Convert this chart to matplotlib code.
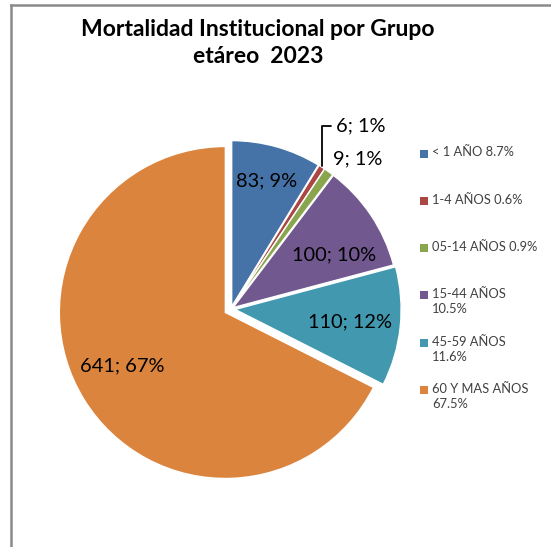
import numpy as np
import matplotlib.pyplot as plt
from matplotlib.patches import Rectangle
from matplotlib.lines import Line2D

plt.rcParams['font.family'] = ['Lato', 'DejaVu Sans']

# Datos
grupos = ['< 1 AÑO 8.7%', '1-4 AÑOS 0.6%', '05-14 AÑOS 0.9%',
          '15-44 AÑOS\n10.5%', '45-59 AÑOS\n11.6%', '60 Y MAS AÑOS\n67.5%']
defunciones = [83, 6, 9, 100, 110, 641]
porcentajes = [9, 1, 1, 10, 12, 67]
colores = ['#4572A7', '#AA4643', '#89A54E', '#71588F', '#4198AF', '#DB843D']

# ubicacion de etiquetas: distancia (radios) y giro respecto al centro del sector (grados)
dist_etiqueta = [0.80, 1.35, 1.18, 0.70, 0.72, 0.74]
giro_etiqueta = [0, -2.6, -4.7, -6.3, 0, -4.2]
separacion = [0.015, 0.015, 0.015, 0.015, 0.025, 0.04]

W, H = 551, 547
cx, cy, R = 231, 309, 166   # centro y radio del pie en pixeles
fig = plt.figure(figsize=(W / 100, H / 100), dpi=100)

# marco del grafico
fig.add_artist(Line2D([11 / W, 11 / W], [0, 1 - 5 / H], color='#8a8a8a', lw=1.8))
fig.add_artist(Line2D([11 / W, 1], [1 - 5 / H, 1 - 5 / H], color='#8a8a8a', lw=1.8))

fig.text(258 / W, 1 - 43 / H, 'Mortalidad Institucional por Grupo\netáreo  2023',
         ha='center', va='center', fontsize=16.5, fontweight='bold', linespacing=1.3)

half = 178
ax = fig.add_axes([(cx - half) / W, 1 - (cy + half) / H, 2 * half / W, 2 * half / H])
wedges, _ = ax.pie(defunciones, colors=colores, startangle=90, counterclock=False,
                   explode=separacion, radius=1.0,
                   wedgeprops=dict(edgecolor='white', linewidth=1.0))
lim = half / R
ax.set_xlim(-lim, lim)
ax.set_ylim(-lim, lim)
ax.set_aspect('equal')

for i, w in enumerate(wedges):
    mid = np.deg2rad((w.theta1 + w.theta2) / 2)
    ang = mid + np.deg2rad(giro_etiqueta[i])
    r = dist_etiqueta[i]
    txt = f'{defunciones[i]}; {porcentajes[i]}%'
    pos = (r * np.cos(ang), r * np.sin(ang))
    if i == 1:
        borde = (1.02 * np.cos(mid), 1.02 * np.sin(mid))
        ax.annotate(txt, xy=borde, xytext=pos, ha='center', va='center', fontsize=14.4,
                    arrowprops=dict(arrowstyle='-', color='black', lw=1.3,
                                    connectionstyle='angle,angleA=0,angleB=90,rad=0',
                                    shrinkA=1, shrinkB=0))
    else:
        ax.text(pos[0], pos[1], txt, ha='center', va='center', fontsize=14.4)

# leyenda
for i, g in enumerate(grupos):
    y = 153.5 + i * 47.3
    fig.add_artist(Rectangle((420 / W, 1 - (y + 4) / H), 8 / W, 8 / H,
                             facecolor=colores[i], edgecolor='none'))
    fig.text(432 / W, 1 - (y - 7) / H, g, ha='left', va='top', fontsize=9.3,
             color='#404040', linespacing=1.3)

fig.savefig('out.png', dpi=100)
